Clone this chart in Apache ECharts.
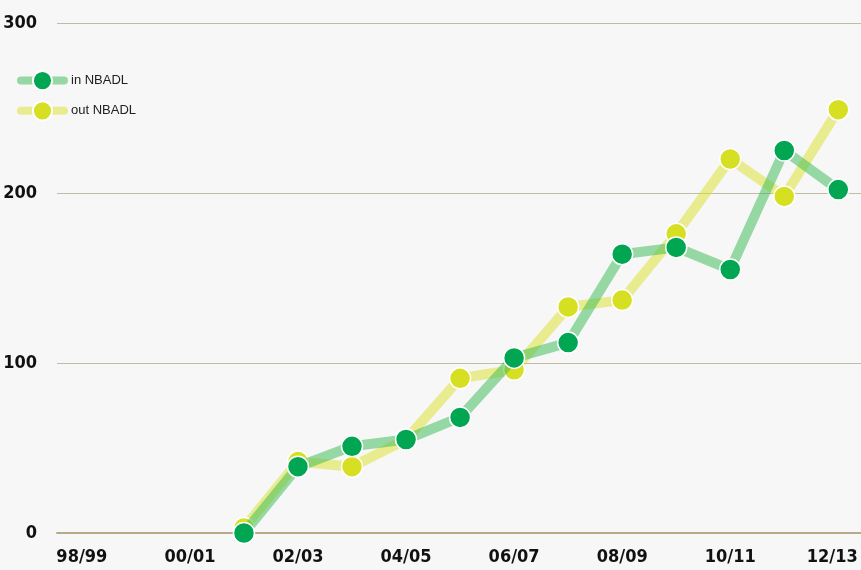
<!DOCTYPE html>
<html>
<head>
<meta charset="utf-8">
<script src="https://cdn.jsdelivr.net/npm/echarts@6/dist/echarts.min.js"></script>
<style>
html,body{margin:0;padding:0;background:#f7f7f7;}
#chart{width:861px;height:570px;}
</style>
</head>
<body>
<div id="chart"></div>
<script>
const seasons = ['98/99','99/00','00/01','01/02','02/03','03/04','04/05','05/06','06/07','07/08','08/09','09/10','10/11','11/12','12/13'];
const inNBADL  = [null,null,null,0,39,51,55,68,103,112,164,168,155,225,202];
const outNBADL = [null,null,null,3,42,39,55,91,96,133,137,176,220,198,249];
const xLabelIdx = [0,2,4,6,8,10,12,14];

const toPairs = arr => arr.map((v,i)=>[i,v]).filter(p=>p[1]!==null);
const font = '"DejaVu Sans Condensed", "Liberation Sans Narrow", "Liberation Sans", sans-serif';

const chart = echarts.init(document.getElementById('chart'));
chart.setOption({
  backgroundColor:'#f7f7f7',
  animation:false,
  grid:{left:57,right:0,top:23,bottom:37,outerBoundsMode:'none',containLabel:false},
  legend:{
    left:17, top:70, padding:0, orient:'vertical', itemGap:9,
    itemWidth:43, itemHeight:24,
    data:[
      {name:'in NBADL',lineStyle:{width:8,cap:'round'}},
      {name:'out NBADL',lineStyle:{width:8,cap:'round'}}
    ],
    textStyle:{fontFamily:'Arial, "Liberation Sans", sans-serif',fontSize:13,color:'#222',padding:[0,0,0,2]}
  },
  xAxis:{
    type:'value', min:-0.46, max:14.42,
    splitLine:{show:false},
    axisTick:{show:false},
    axisLine:{show:true,lineStyle:{color:'#b5ab8a',width:2}},
    axisLabel:{
      customValues:xLabelIdx,
      formatter:v=>{
        const i=Math.round(v);
        return i===seasons.length-1 ? '{last|'+seasons[i]+'}' : seasons[i];
      },
      rich:{last:{fontFamily:font,fontWeight:'bold',fontSize:18,color:'#111',padding:[0,12,0,0]}},
      fontFamily:font,fontWeight:'bold',fontSize:18,color:'#111',margin:15
    }
  },
  yAxis:{
    type:'value', min:0, max:300, interval:100,
    axisLine:{show:false}, axisTick:{show:false},
    splitLine:{lineStyle:{color:'#c2bba6',width:1}},
    axisLabel:{fontFamily:font,fontWeight:'bold',fontSize:18,color:'#111',margin:20}
  },
  series:[
    {
      name:'out NBADL', type:'line', data:toPairs(outNBADL),
      symbol:'circle', symbolSize:21,
      itemStyle:{color:'#d7df23',borderColor:'#fff',borderWidth:1.5},
      lineStyle:{color:'#d9e127',width:10,opacity:0.5},
      z:2
    },
    {
      name:'in NBADL', type:'line', data:toPairs(inNBADL),
      symbol:'circle', symbolSize:21,
      itemStyle:{color:'#00a651',borderColor:'#fff',borderWidth:1.5},
      lineStyle:{color:'#35b951',width:10,opacity:0.5},
      z:3
    }
  ]
});
</script>
</body>
</html>
